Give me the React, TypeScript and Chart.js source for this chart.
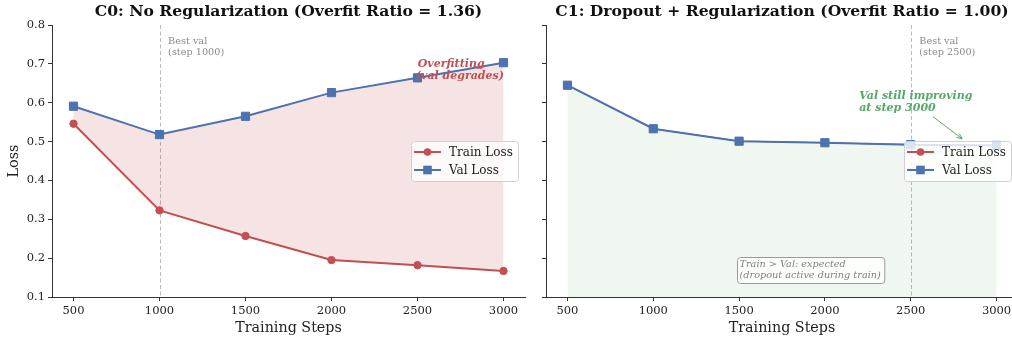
import React, { useEffect, useRef } from 'react';
import { Chart, registerables } from 'chart.js';
Chart.register(...registerables);

const steps = [500, 1000, 1500, 2000, 2500, 3000];
const c0Train = [0.546, 0.323, 0.257, 0.195, 0.182, 0.167];
const c0Val = [0.591, 0.518, 0.565, 0.626, 0.664, 0.703];
const c1Train = [0.645, 0.533, 0.501, 0.497, 0.492, 0.49];
const c1Val = [0.645, 0.533, 0.501, 0.497, 0.492, 0.49];
const yTicks = [0.1, 0.2, 0.3, 0.4, 0.5, 0.6, 0.7, 0.8];
const xTicks = [500, 1000, 1500, 2000, 2500, 3000];
const titles = [
  'C0: No Regularization (Overfit Ratio = 1.36)',
  'C1: Dropout + Regularization (Overfit Ratio = 1.00)',
];
const bestSteps = [1000, 2500];
const seriesLabels = ['Train Loss', 'Val Loss'];

const RED = '#C44E52';
const BLUE = '#4C72B0';
const GREEN = '#55A868';
const FONT = '"DejaVu Serif", serif';
const X_MIN = 375;
const X_MAX = 3125;

type Panel = {
  idx: number;
  train: number[];
  val: number[];
  yWidth: number;
  showY: boolean;
};

function drawLegend(ctx: CanvasRenderingContext2D, right: number, cy: number) {
  const w = 107, h = 40;
  const x = Math.round(right - w), y = Math.round(cy - h / 2);
  ctx.save();
  ctx.beginPath();
  (ctx as any).roundRect(x + 0.5, y + 0.5, w, h, 3);
  ctx.fillStyle = 'rgba(255,255,255,0.8)';
  ctx.fill();
  ctx.strokeStyle = '#d0d0d0';
  ctx.lineWidth = 1;
  ctx.stroke();
  const rows = [
    { label: seriesLabels[0], color: RED, style: 'circle' },
    { label: seriesLabels[1], color: BLUE, style: 'rect' },
  ];
  rows.forEach((r, i) => {
    const ry = y + 11 + i * 18;
    ctx.strokeStyle = r.color;
    ctx.fillStyle = r.color;
    ctx.lineWidth = 2;
    ctx.beginPath();
    ctx.moveTo(x + 3, ry);
    ctx.lineTo(x + 30, ry);
    ctx.stroke();
    const mx = x + 16.5;
    ctx.beginPath();
    if (r.style === 'circle') ctx.arc(mx, ry, 3.8, 0, Math.PI * 2);
    else ctx.rect(mx - 4.3, ry - 4.3, 8.6, 8.6);
    ctx.fill();
    ctx.fillStyle = '#222';
    ctx.font = `12px ${FONT}`;
    ctx.textAlign = 'left';
    ctx.textBaseline = 'middle';
    ctx.fillText(r.label, x + 38, ry + 0.5);
  });
  ctx.restore();
}

function makeChart(canvas: HTMLCanvasElement, p: Panel) {
  const font = { family: FONT, size: 11.5 };
  const deco = {
    id: 'deco' + p.idx,
    beforeDatasetsDraw(chart: any) {
      const { ctx, chartArea, scales } = chart;
      const xs = scales.x;
      const bx = xs.getPixelForValue(bestSteps[p.idx]);
      ctx.save();
      ctx.strokeStyle = 'rgba(128,128,128,0.55)';
      ctx.lineWidth = 1;
      ctx.setLineDash([4, 2.5]);
      ctx.beginPath();
      ctx.moveTo(Math.round(bx) + 0.5, chartArea.top);
      ctx.lineTo(Math.round(bx) + 0.5, chartArea.bottom);
      ctx.stroke();
      ctx.restore();
    },
    afterDatasetsDraw(chart: any) {
      const { ctx, chartArea, scales } = chart;
      const xs = scales.x, ys = scales.y;
      ctx.save();
      ctx.fillStyle = '#8a8a8a';
      ctx.font = `9.7px ${FONT}`;
      ctx.textAlign = 'left';
      ctx.textBaseline = 'middle';
      const tx = xs.getPixelForValue(bestSteps[p.idx] + 50);
      const ty = ys.getPixelForValue(0.757);
      ctx.fillText('Best val', tx, ty);
      ctx.fillText(`(step ${bestSteps[p.idx]})`, tx, ty + 11);

      if (p.idx === 0) {
        ctx.fillStyle = RED;
        ctx.font = `italic bold 11px ${FONT}`;
        const ox = xs.getPixelForValue(2490);
        const oy = ys.getPixelForValue(0.7);
        ctx.fillText('Overfitting', ox + 2, oy);
        ctx.fillText('(val degrades)', ox, oy + 12);
      } else {
        ctx.fillStyle = GREEN;
        ctx.font = `italic bold 11px ${FONT}`;
        const gx = xs.getPixelForValue(2200);
        const gy = ys.getPixelForValue(0.617);
        ctx.fillText('Val still improving', gx, gy);
        ctx.fillText('at step 3000', gx, gy + 12);
        const ax0 = xs.getPixelForValue(2630), ay0 = ys.getPixelForValue(0.564);
        const ax1 = xs.getPixelForValue(2800), ay1 = ys.getPixelForValue(0.507);
        ctx.strokeStyle = GREEN;
        ctx.lineWidth = 1;
        ctx.beginPath();
        ctx.moveTo(ax0, ay0);
        ctx.lineTo(ax1, ay1);
        ctx.stroke();
        const ang = Math.atan2(ay1 - ay0, ax1 - ax0);
        ctx.beginPath();
        ctx.moveTo(ax1, ay1);
        ctx.lineTo(ax1 - 6 * Math.cos(ang - 0.4), ay1 - 6 * Math.sin(ang - 0.4));
        ctx.moveTo(ax1, ay1);
        ctx.lineTo(ax1 - 6 * Math.cos(ang + 0.4), ay1 - 6 * Math.sin(ang + 0.4));
        ctx.stroke();

        ctx.font = `italic 9.7px ${FONT}`;
        const l1 = 'Train > Val: expected';
        const l2 = '(dropout active during train)';
        const bxl = xs.getPixelForValue(1485);
        const bcy = ys.getPixelForValue(0.17);
        const bw = Math.max(ctx.measureText(l1).width, ctx.measureText(l2).width) + 6;
        ctx.beginPath();
        (ctx as any).roundRect(Math.round(bxl) + 0.5, Math.round(bcy - 13) + 0.5, bw, 26, 3);
        ctx.fillStyle = 'rgba(255,255,255,0.8)';
        ctx.fill();
        ctx.strokeStyle = '#9a9a9a';
        ctx.stroke();
        ctx.fillStyle = '#808080';
        ctx.fillText(l1, bxl + 3, bcy - 5);
        ctx.fillText(l2, bxl + 3, bcy + 6);
      }

      drawLegend(ctx, chartArea.right - 7, (chartArea.top + chartArea.bottom) / 2);
      ctx.restore();
    },
    afterDraw(chart: any) {
      const { ctx, chartArea } = chart;
      ctx.save();
      const cx = (chartArea.left + chartArea.right) / 2;
      ctx.fillStyle = '#111';
      ctx.textAlign = 'center';
      ctx.textBaseline = 'middle';
      ctx.font = `bold 15.6px ${FONT}`;
      ctx.fillText(titles[p.idx], cx, 12);
      ctx.font = `14.3px ${FONT}`;
      ctx.fillStyle = '#222';
      ctx.fillText('Training Steps', cx, 328);
      if (p.showY) {
        ctx.translate(14, (chartArea.top + chartArea.bottom) / 2);
        ctx.rotate(-Math.PI / 2);
        ctx.fillText('Loss', 0, 0);
      }
      ctx.restore();
    },
  };

  return new Chart(canvas, {
    type: 'line',
    data: {
      datasets: [
        {
          label: seriesLabels[0],
          data: steps.map((s, i) => ({ x: s, y: p.train[i] })),
          borderColor: RED,
          backgroundColor: RED,
          pointBackgroundColor: RED,
          pointBorderColor: RED,
          pointStyle: 'circle',
          pointRadius: p.idx === 0 ? 3.7 : 3,
          pointHoverRadius: p.idx === 0 ? 3.7 : 3,
          pointBorderWidth: 1,
          borderWidth: p.idx === 0 ? 2 : 1.2,
          fill: false,
          order: 1,
        } as any,
        {
          label: seriesLabels[1],
          data: steps.map((s, i) => ({ x: s, y: p.val[i] })),
          borderColor: BLUE,
          backgroundColor: BLUE,
          pointBackgroundColor: BLUE,
          pointBorderColor: BLUE,
          pointStyle: 'rect',
          pointRadius: 5.8,
          pointHoverRadius: 5.8,
          pointBorderWidth: 1,
          borderWidth: 2,
          fill:
            p.idx === 0
              ? { target: 0, above: 'rgba(196,78,82,0.16)', below: 'rgba(196,78,82,0.16)' }
              : { target: 'start', above: 'rgba(85,168,104,0.09)', below: 'rgba(85,168,104,0.09)' },
          order: 0,
        } as any,
      ],
    },
    options: {
      responsive: false,
      animation: false,
      devicePixelRatio: 1,
      layout: { padding: { top: 25, left: 0, right: 7, bottom: 0 } },
      plugins: {
        legend: { display: false },
        title: { display: false },
        tooltip: { enabled: false },
      },
      scales: {
        x: {
          type: 'linear',
          min: X_MIN,
          max: X_MAX,
          afterBuildTicks: (s: any) => {
            s.ticks = xTicks.map((v) => ({ value: v }));
          },
          afterFit: (s: any) => {
            s.height = 45;
            s.paddingLeft = 0;
            s.paddingRight = 0;
          },
          ticks: {
            font,
            color: '#222',
            padding: 3,
            maxRotation: 0,
            autoSkip: false,
            callback: (v: any) => String(v),
          },
          grid: { display: true, drawOnChartArea: false, drawTicks: true, tickLength: 4, color: '#333' },
          border: { display: true, color: '#333', width: 1 },
        },
        y: {
          type: 'linear',
          min: 0.1,
          max: 0.8,
          afterBuildTicks: (s: any) => {
            s.ticks = yTicks.map((v) => ({ value: v }));
          },
          afterFit: (s: any) => {
            s.width = p.yWidth;
            s.paddingTop = 0;
            s.paddingBottom = 0;
          },
          ticks: {
            font,
            color: '#222',
            padding: 3,
            autoSkip: false,
            callback: (v: any) => (p.showY ? Number(v).toFixed(1) : ''),
          },
          grid: { display: true, drawOnChartArea: false, drawTicks: true, tickLength: 4, color: '#333' },
          border: { display: true, color: '#333', width: 1 },
        },
      },
    } as any,
    plugins: [deco],
  });
}

export default function App() {
  const ref0 = useRef<HTMLCanvasElement>(null);
  const ref1 = useRef<HTMLCanvasElement>(null);
  useEffect(() => {
    const a = makeChart(ref0.current!, { idx: 0, train: c0Train, val: c0Val, yWidth: 52, showY: true });
    const b = makeChart(ref1.current!, { idx: 1, train: c1Train, val: c1Val, yWidth: 16, showY: false });
    return () => {
      a.destroy();
      b.destroy();
    };
  }, []);
  return (
    <div style={{ position: 'fixed', left: 0, top: 0, width: 1012, height: 342, background: '#fff', overflow: 'hidden' }}>
      <canvas ref={ref0} width={532} height={342} style={{ position: 'absolute', left: 0, top: 0, width: 532, height: 342 }} />
      <canvas ref={ref1} width={495} height={342} style={{ position: 'absolute', left: 530, top: 0, width: 495, height: 342 }} />
    </div>
  );
}
